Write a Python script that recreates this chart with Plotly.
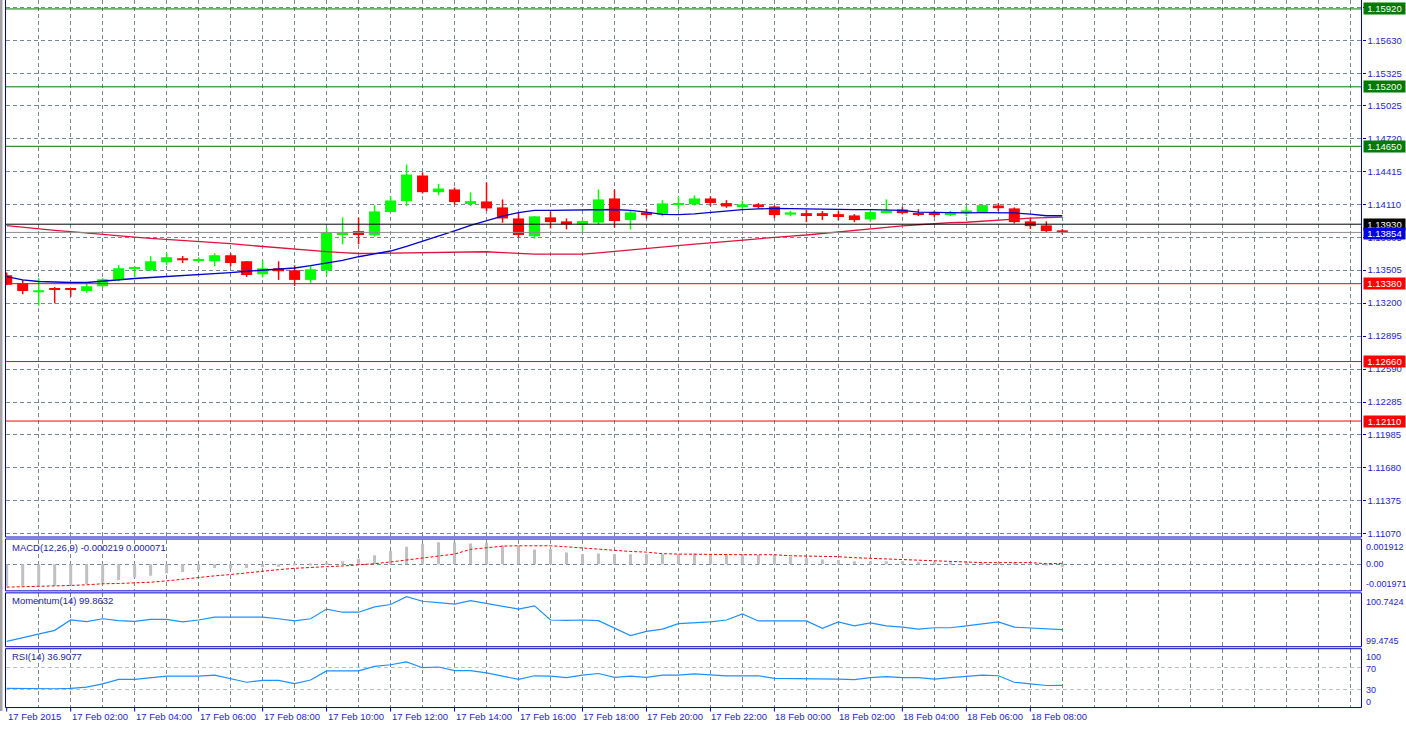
import pandas as pd
import plotly.graph_objects as go

W, H = 1406, 729

# ---------------- data ----------------
times = pd.date_range("2015-02-17 00:00", periods=67, freq="30min")

opens = [1.13458, 1.13384, 1.13301, 1.13341, 1.13332, 1.13313, 1.13357, 1.13421, 1.13520, 1.13504,
         1.13578, 1.13615, 1.13590, 1.13587, 1.13642, 1.13587, 1.13467, 1.13522, 1.13504, 1.13415,
         1.13504, 1.13839, 1.13866, 1.13827, 1.14042, 1.14143, 1.14380, 1.14226, 1.14251, 1.14125,
         1.14140, 1.14085, 1.13983, 1.13818, 1.13993, 1.13956, 1.13928, 1.13944, 1.14168, 1.13968,
         1.14039, 1.14018, 1.14113, 1.14113, 1.14168, 1.14125, 1.14088, 1.14113, 1.14094, 1.14018,
         1.14032, 1.14032, 1.14023, 1.14011, 1.13974, 1.14032, 1.14066, 1.14032, 1.14039, 1.14014,
         1.14032, 1.14039, 1.14103, 1.14076, 1.13956, 1.13919, 1.13873]
highs = [1.13483, 1.13415, 1.13430, 1.13350, 1.13336, 1.13384, 1.13430, 1.13550, 1.13544, 1.13633,
         1.13661, 1.13636, 1.13624, 1.13661, 1.13661, 1.13590, 1.13596, 1.13587, 1.13550, 1.13544,
         1.13898, 1.13993, 1.13990, 1.14106, 1.14189, 1.14481, 1.14410, 1.14303, 1.14269, 1.14223,
         1.14315, 1.14159, 1.14036, 1.14005, 1.14048, 1.13983, 1.13968, 1.14251, 1.14251, 1.14057,
         1.14073, 1.14152, 1.14184, 1.14196, 1.14189, 1.14152, 1.14149, 1.14125, 1.14103, 1.14054,
         1.14064, 1.14051, 1.14051, 1.14023, 1.14054, 1.14159, 1.14088, 1.14069, 1.14054, 1.14054,
         1.14094, 1.14113, 1.14125, 1.14085, 1.13986, 1.13956, 1.13885]
lows = [1.13366, 1.13283, 1.13175, 1.13200, 1.13258, 1.13295, 1.13347, 1.13403, 1.13439, 1.13500,
        1.13550, 1.13571, 1.13578, 1.13541, 1.13541, 1.13442, 1.13437, 1.13415, 1.13359, 1.13387,
        1.13458, 1.13744, 1.13744, 1.13815, 1.14040, 1.14097, 1.14214, 1.14198, 1.14110, 1.14097,
        1.14051, 1.13944, 1.13806, 1.13796, 1.13891, 1.13882, 1.13864, 1.13928, 1.13898, 1.13882,
        1.13983, 1.14002, 1.14066, 1.14103, 1.14097, 1.14082, 1.14060, 1.14073, 1.13986, 1.14002,
        1.13949, 1.13968, 1.13968, 1.13949, 1.13953, 1.14030, 1.14020, 1.14005, 1.13995, 1.14005,
        1.14005, 1.14032, 1.14051, 1.13937, 1.13885, 1.13854, 1.13836]
closes = [1.13369, 1.13313, 1.13320, 1.13322, 1.13322, 1.13357, 1.13421, 1.13522, 1.13525, 1.13587,
          1.13624, 1.13596, 1.13605, 1.13642, 1.13571, 1.13461, 1.13522, 1.13495, 1.13415, 1.13513,
          1.13852, 1.13852, 1.13830, 1.14048, 1.14149, 1.14389, 1.14226, 1.14260, 1.14134, 1.14143,
          1.14076, 1.13983, 1.13830, 1.14002, 1.13949, 1.13928, 1.13959, 1.14159, 1.13959, 1.14039,
          1.14014, 1.14122, 1.14122, 1.14168, 1.14125, 1.14094, 1.14113, 1.14088, 1.14014, 1.14039,
          1.14014, 1.14014, 1.14005, 1.13968, 1.14042, 1.14057, 1.14032, 1.14023, 1.14014, 1.14039,
          1.14057, 1.14106, 1.14078, 1.13949, 1.13912, 1.13866, 1.13854]

ma_fast = [1.13446, 1.13416, 1.13400, 1.13393, 1.13391, 1.13391, 1.13405, 1.13416, 1.13428, 1.13437,
           1.13446, 1.13453, 1.13461, 1.13472, 1.13483, 1.13495, 1.13507, 1.13516, 1.13525, 1.13546,
           1.13569, 1.13596, 1.13629, 1.13656, 1.13682, 1.13725, 1.13771, 1.13818, 1.13868, 1.13919,
           1.13965, 1.14005, 1.14036, 1.14057, 1.14057, 1.14060, 1.14064, 1.14065, 1.14066, 1.14057,
           1.14042, 1.14020, 1.14018, 1.14025, 1.14039, 1.14051, 1.14064, 1.14071, 1.14076, 1.14073,
           1.14069, 1.14066, 1.14064, 1.14064, 1.14064, 1.14060, 1.14057, 1.14042, 1.14037, 1.14032,
           1.14034, 1.14036, 1.14036, 1.14034, 1.14023, 1.14008, 1.14008]
ma_slow = [1.13916, 1.13900, 1.13885, 1.13873, 1.13861, 1.13850, 1.13839, 1.13825, 1.13811, 1.13799,
           1.13790, 1.13781, 1.13774, 1.13762, 1.13750, 1.13736, 1.13723, 1.13710, 1.13698, 1.13687,
           1.13676, 1.13667, 1.13659, 1.13661, 1.13664, 1.13665, 1.13667, 1.13670, 1.13673, 1.13676,
           1.13675, 1.13667, 1.13659, 1.13654, 1.13654, 1.13654, 1.13654, 1.13665, 1.13679, 1.13693,
           1.13710, 1.13723, 1.13736, 1.13746, 1.13758, 1.13771, 1.13785, 1.13799, 1.13811, 1.13820,
           1.13830, 1.13845, 1.13859, 1.13873, 1.13887, 1.13900, 1.13914, 1.13925, 1.13937, 1.13944,
           1.13948, 1.13958, 1.13970, 1.13979, 1.13986, 1.13991, 1.13995]

macd_main = [-0.00171, -0.00166, -0.00166, -0.00166, -0.00158, -0.00151, -0.00140, -0.00120, -0.00102, -0.00089,
             -0.00069, -0.00059, -0.00043, -0.00028, -0.00033, -0.00028, -0.00023, -0.00018, -0.00010, -0.00005,
             0.00008, 0.00023, 0.00043, 0.00069, 0.00102, 0.00135, 0.00158, 0.00171, 0.00168, 0.00161,
             0.00166, 0.00145, 0.00145, 0.00115, 0.00117, 0.00092, 0.00077, 0.00084, 0.00077, 0.00077,
             0.00077, 0.00077, 0.00077, 0.00084, 0.00077, 0.00077, 0.00077, 0.00071, 0.00071, 0.00056,
             0.00046, 0.00038, 0.00033, 0.00023, 0.00023, 0.00023, 0.00023, 0.00015, 0.00020, 0.00015,
             0.00015, 0.00013, 0.00008, 0.00008, 0.00003, -0.00012, -0.000219]
macd_signal = [-0.00176, -0.00174, -0.00171, -0.00167, -0.00163, -0.00158, -0.00150, -0.00148, -0.00145, -0.00138,
               -0.00128, -0.00115, -0.00099, -0.00089, -0.00079, -0.00066, -0.00051, -0.00041, -0.00031, -0.00023,
               -0.00018, -0.00013, -0.00005, 0.00005, 0.00018, 0.00033, 0.00048, 0.00059, 0.00079, 0.00115,
               0.00128, 0.00140, 0.00143, 0.00143, 0.00143, 0.00135, 0.00125, 0.00118, 0.00107, 0.00099,
               0.00094, 0.00082, 0.00079, 0.00077, 0.00074, 0.00074, 0.00074, 0.00074, 0.00074, 0.00066,
               0.00064, 0.00059, 0.00059, 0.00051, 0.00046, 0.00041, 0.00036, 0.00033, 0.00023, 0.00020,
               0.00018, 0.00013, 0.00013, 0.00013, 0.00013, 0.00005, 0.000071]

momentum = [99.5815, 99.666, 99.753, 99.847, 100.098, 100.058, 100.128, 100.081, 100.065, 100.112,
            100.112, 100.051, 100.098, 100.168, 100.168, 100.168, 100.168, 100.128, 100.074, 100.128,
            100.363, 100.286, 100.286, 100.417, 100.473, 100.661, 100.551, 100.520, 100.480, 100.567,
            100.504, 100.441, 100.363, 100.441, 100.098, 100.088, 100.098, 100.081, 99.901, 99.722,
            99.823, 99.877, 100.011, 100.027, 100.051, 100.098, 100.246, 100.074, 100.065, 100.074,
            100.074, 99.894, 100.051, 99.957, 100.027, 99.957, 99.924, 99.877, 99.910, 99.910,
            99.957, 100.004, 100.051, 99.924, 99.901, 99.877, 99.8632]

rsi = [31.3, 30.6, 30.0, 30.6, 31.3, 33.7, 39.8, 48.4, 48.4, 51.6,
       54.5, 54.5, 54.5, 56.4, 49.7, 42.9, 46.6, 46.6, 40.5, 47.1,
       64.5, 64.5, 64.5, 72.9, 76.1, 81.6, 70.5, 71.8, 65.0, 65.0,
       60.8, 54.5, 48.4, 55.2, 54.5, 51.6, 56.4, 59.5, 52.1, 54.5,
       52.1, 56.4, 56.4, 58.9, 56.4, 55.2, 55.2, 55.2, 50.3, 50.3,
       49.0, 49.0, 49.0, 47.9, 51.6, 53.4, 51.6, 51.6, 49.0, 51.6,
       53.4, 56.4, 55.2, 42.9, 39.8, 36.8, 36.9077]

price_ticks = [1.11070, 1.11375, 1.11680, 1.11985, 1.12285, 1.12590, 1.12895, 1.13200, 1.13505,
               1.13805, 1.14110, 1.14415, 1.14720, 1.15025, 1.15325, 1.15630, 1.15935]
price_tick_text = ["1.11070", "1.11375", "1.11680", "1.11985", "1.12285", "1.12590", "1.12895", "1.13200",
                   "1.13505", "1.13805", "1.14110", "1.14415", "1.14720", "1.15025", "1.15325", "1.15630", ""]

level_prices = [1.15920, 1.15200, 1.14650, 1.13930, 1.13380, 1.12660, 1.12110]
level_colors = ["#007A00", "#007A00", "#007A00", "#000000", "#FF0000", "#FF0000", "#FF0000"]

x_labels = ["17 Feb 2015", "17 Feb 02:00", "17 Feb 04:00", "17 Feb 06:00", "17 Feb 08:00", "17 Feb 10:00",
            "17 Feb 12:00", "17 Feb 14:00", "17 Feb 16:00", "17 Feb 18:00", "17 Feb 20:00", "17 Feb 22:00",
            "18 Feb 00:00", "18 Feb 02:00", "18 Feb 04:00", "18 Feb 06:00", "18 Feb 08:00"]
x_label_times = pd.date_range("2015-02-17 00:00", periods=len(x_labels), freq="2h")
grid_times = pd.date_range("2015-02-17 01:00", periods=42, freq="1h")

macd_range = [-0.001971, 0.001912]
mom_range = [99.4745, 100.7424]

# ---------------- helpers / styles ----------------
def yp(px):
    return 1 - px / H


def xp(px):
    return px / W


FRAME = "#0000C8"
GRID = "#778899"
TXT = "#1E1ECC"
TITLE = "#24249E"
FONT = "Liberation Sans"
HOUR_MS = 3600 * 1000
px_per_hour = 32.0

x_range = [times[0] - pd.Timedelta(seconds=135), times[0] + pd.Timedelta(hours=42.353)]

bull = [c >= o for o, c in zip(opens, closes)]
body_base = [min(o, c) for o, c in zip(opens, closes)]
body_h = [max(abs(c - o), 0.00001) for o, c in zip(opens, closes)]
body_col = ["#00FF00" if b else "#FF0000" for b in bull]

fig = go.Figure()

# wicks
for want, col in [(True, "#00FF00"), (False, "#FF0000")]:
    wx, wy = [], []
    for t, lo, hi, b in zip(times, lows, highs, bull):
        if b == want:
            wx += [t, t, None]
            wy += [lo, hi, None]
    fig.add_trace(go.Scatter(x=wx, y=wy, mode="lines", line=dict(color=col, width=1.5),
                             hoverinfo="skip", xaxis="x", yaxis="y"))

# bodies
fig.add_trace(go.Bar(x=times, y=body_h, base=body_base, width=11 / px_per_hour * HOUR_MS,
                     marker=dict(color=body_col, line=dict(width=0)), xaxis="x", yaxis="y"))

# moving averages
fig.add_trace(go.Scatter(x=times, y=ma_slow, mode="lines", line=dict(color="#DC143C", width=1.3),
                         xaxis="x", yaxis="y"))
fig.add_trace(go.Scatter(x=times, y=ma_fast, mode="lines", line=dict(color="#0000CD", width=1.3),
                         xaxis="x", yaxis="y"))

# MACD
fig.add_trace(go.Bar(x=times, y=macd_main, width=3 / px_per_hour * HOUR_MS,
                     marker=dict(color="#C0C0C0", line=dict(width=0)), xaxis="x2", yaxis="y2"))
fig.add_trace(go.Scatter(x=times, y=macd_signal, mode="lines", line=dict(color="#FF0000", width=1, dash="3px,2px"),
                         xaxis="x2", yaxis="y2"))

# Momentum
fig.add_trace(go.Scatter(x=times, y=momentum, mode="lines", line=dict(color="#1E90FF", width=1.2),
                         xaxis="x3", yaxis="y3"))
# RSI
fig.add_trace(go.Scatter(x=times, y=rsi, mode="lines", line=dict(color="#1E90FF", width=1.2),
                         xaxis="x4", yaxis="y4"))

xdom = [xp(5.5), xp(1361.5)]
common_x = dict(range=x_range, type="date", domain=xdom, showticklabels=False, ticks="",
                tickmode="array", tickvals=list(grid_times), showgrid=True, gridcolor=GRID,
                griddash="4px,3px", gridwidth=1, zeroline=False, showline=False, fixedrange=True)

tickfont = dict(family=FONT, size=9.5, color=TXT)
indfont = dict(family=FONT, size=9, color=TXT)

layout = dict(
    width=W, height=H, margin=dict(l=0, r=0, t=0, b=0),
    paper_bgcolor="white", plot_bgcolor="white", showlegend=False, hovermode=False,
    barmode="overlay",
    xaxis=dict(common_x, anchor="y"),
    xaxis2=dict(common_x, anchor="y2", matches="x"),
    xaxis3=dict(common_x, anchor="y3", matches="x"),
    xaxis4=dict(common_x, anchor="y4", matches="x"),
    yaxis=dict(domain=[yp(538), yp(0)], range=[1.110423, 1.160027], side="right", anchor="x",
               tickmode="array", tickvals=price_ticks, ticktext=price_tick_text, ticks="outside",
               ticklen=3, tickcolor=FRAME, tickfont=tickfont, showgrid=True, gridcolor=GRID,
               griddash="4px,3px", zeroline=False, showline=False, fixedrange=True),
    yaxis2=dict(domain=[yp(591.5), yp(541)], range=macd_range, side="right", anchor="x2",
                tickmode="array", tickvals=[0], showticklabels=False, ticks="", showgrid=True,
                gridcolor=GRID, griddash="4px,3px", zeroline=False, fixedrange=True),
    yaxis3=dict(domain=[yp(647.5), yp(595)], range=mom_range, side="right", anchor="x3",
                showticklabels=False, ticks="", showgrid=False, zeroline=False, fixedrange=True),
    yaxis4=dict(domain=[yp(709), yp(650.5)], range=[-4.1, 106.5], side="right", anchor="x4",
                tickmode="array", tickvals=[30, 70], showticklabels=False, ticks="", showgrid=True,
                gridcolor="#C0C0C0", griddash="4px,3px", zeroline=False, fixedrange=True),
)

shapes = []
annotations = []

# horizontal level lines
for p, c in zip(level_prices, level_colors):
    shapes.append(dict(type="line", xref="x domain", x0=0, x1=1, yref="y", y0=p, y1=p,
                       line=dict(color=c, width=1), layer="above"))
bid = closes[-1]
shapes.append(dict(type="line", xref="x domain", x0=0, x1=1, yref="y", y0=bid, y1=bid,
                   line=dict(color="#8C8C8C", width=1), layer="above"))

# panel frames
for top, bot in [(-3, 538.5), (540.5, 592.5), (594.5, 648.5), (650.5, 709.5)]:
    shapes.append(dict(type="rect", xref="paper", yref="paper", x0=xp(5.5), x1=xp(1361.5),
                       y0=yp(bot), y1=yp(top), line=dict(color=FRAME, width=1), layer="above"))
# left window frame
shapes.append(dict(type="rect", xref="paper", yref="paper", x0=0, x1=xp(2.5), y0=yp(713), y1=1,
                   fillcolor="#A3A3A3", line=dict(width=0), layer="above"))

# bottom time ticks & labels
for t, lab in zip(x_label_times, x_labels):
    shapes.append(dict(type="line", xref="x4", yref="paper", x0=t, x1=t, y0=yp(709.5), y1=yp(713.5),
                       line=dict(color=FRAME, width=1)))
    annotations.append(dict(x=t, xref="x4", y=yp(718.5), yref="paper", text=lab, showarrow=False,
                            xanchor="left", yanchor="middle", xshift=-1, font=tickfont))

# level label boxes
for p, c in zip(level_prices, level_colors):
    annotations.append(dict(x=xp(1363), xref="paper", y=p, yref="y", text=f"{p:.5f}", showarrow=False,
                            xanchor="left", yanchor="middle", bgcolor=c, width=41, height=11,
                            borderpad=0, align="center",
                            font=dict(family=FONT, size=9.5, color="white")))
annotations.append(dict(x=xp(1363), xref="paper", y=bid, yref="y", text=f"{bid:.5f}", showarrow=False,
                        xanchor="left", yanchor="middle", bgcolor="#0000E0", width=41, height=11,
                        borderpad=0, align="center", yshift=-1,
                        font=dict(family=FONT, size=9.5, color="white")))

# indicator titles
titles = [(f"MACD(12,26,9) {macd_main[-1]:.6f} {macd_signal[-1]:.6f}", 549),
          (f"Momentum(14) {momentum[-1]:.4f}", 602.5),
          (f"RSI(14) {rsi[-1]:.4f}", 658.8)]
for txt, py in titles:
    annotations.append(dict(x=xp(10), xref="paper", y=yp(py), yref="paper", text=txt, showarrow=False,
                            xanchor="left", yanchor="middle", font=dict(family=FONT, size=9.5, color=TITLE)))

# indicator scale labels
ind_labels = [(f"{macd_range[1]:.6f}", 548.5), ("0.00", 566), (f"{macd_range[0]:.6f}", 586),
              (f"{mom_range[1]:.4f}", 603.5), (f"{mom_range[0]:.4f}", 642.5),
              ("100", 658.5), ("70", 670.5), ("30", 692), ("0", 704)]
for txt, py in ind_labels:
    annotations.append(dict(x=xp(1364), xref="paper", y=yp(py), yref="paper", text=txt, showarrow=False,
                            xanchor="left", yanchor="middle", font=indfont))

layout["shapes"] = shapes
layout["annotations"] = annotations
fig.update_layout(**layout)

fig.write_html("out.html", config={"displayModeBar": False})
